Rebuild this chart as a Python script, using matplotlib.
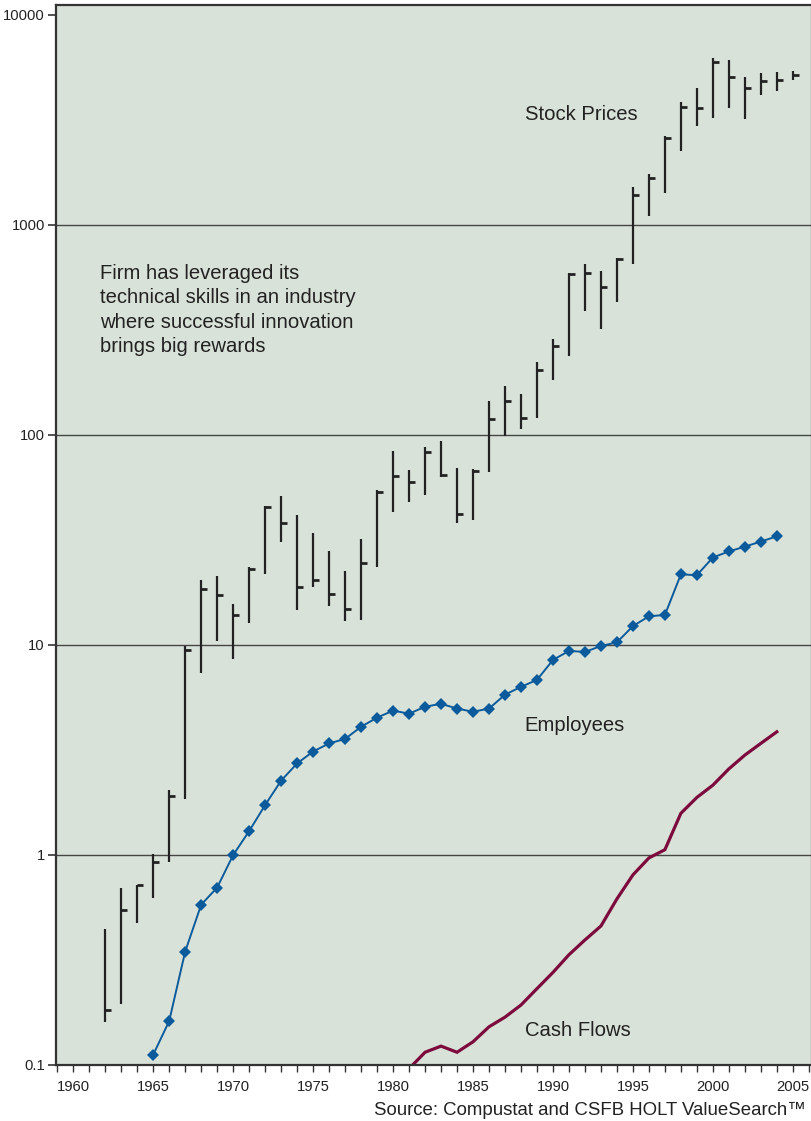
import numpy as np
import matplotlib
matplotlib.use("Agg")
import matplotlib.pyplot as plt
from matplotlib.markers import TICKRIGHT
from matplotlib.ticker import FixedLocator, NullFormatter

plt.rcParams['font.family'] = ['Liberation Sans', 'DejaVu Sans']

# ---- data -------------------------------------------------------------
price_years = list(range(1962, 2006))
price_high = [0.444, 0.70, 0.723, 1.01, 2.05, 9.87, 20.5, 21.4, 15.6, 23.6,
              45.9, 51.5, 41.5, 34.3, 28.1, 22.4, 31.8, 54.5, 83.7, 68.2,
              88.1, 93.7, 69.8, 69.0, 145, 171, 156, 222, 288, 590,
              653, 601, 700, 1510, 1745, 2642, 3838, 4476, 6233, 6099,
              5082, 5297, 5370, 5430]
price_low = [0.160, 0.195, 0.476, 0.621, 0.93, 1.85, 7.36, 10.5, 8.6, 12.7,
             21.9, 30.8, 14.7, 18.8, 15.4, 13.0, 13.2, 23.6, 43.0, 48.0,
             51.9, 63.0, 37.9, 39.2, 66.5, 99.4, 107, 120, 183, 239,
             391, 320, 428, 651, 1104, 1422, 2250, 2957, 3238, 3611,
             3206, 4178, 4365, 4920]
price_close = [0.183, 0.549, 0.72, 0.927, 1.92, 9.5, 18.5, 17.3, 13.9, 22.9,
               45.4, 38.3, 18.8, 20.3, 17.5, 14.8, 24.7, 53.5, 63.7, 59.7,
               82.8, 64.4, 41.9, 67.3, 119, 145, 120, 203, 266, 584,
               590, 507, 687, 1383, 1683, 2604, 3662, 3596, 5987, 5082,
               4494, 4832, 4920, 5180]

employee_years = list(range(1965, 2005))
employees = [0.112, 0.162, 0.347, 0.58, 0.70, 1.0, 1.30, 1.73, 2.26, 2.73,
             3.11, 3.40, 3.57, 4.08, 4.51, 4.87, 4.71, 5.08, 5.25, 4.98,
             4.81, 4.98, 5.80, 6.32, 6.82, 8.49, 9.37, 9.27, 9.89, 10.3,
             12.3, 13.7, 13.9, 21.7, 21.5, 26.1, 27.9, 29.4, 31.1, 32.9]

cash_years = list(range(1981, 2005))
cash_flows = [0.096, 0.115, 0.123, 0.115, 0.129, 0.152, 0.169, 0.193,
              0.231, 0.276, 0.335, 0.394, 0.459, 0.618, 0.804, 0.968,
              1.06, 1.58, 1.88, 2.15, 2.57, 2.99, 3.40, 3.86]

y_ticks = [0.1, 1, 10, 100, 1000, 10000]
y_tick_labels = ['0.1', '1', '10', '100', '1000', '10000']
x_ticks = list(range(1960, 2006, 5))

# ---- figure -----------------------------------------------------------
W, H = 812, 1121
fig = plt.figure(figsize=(W / 100, H / 100), dpi=100)
fig.patch.set_facecolor('white')
ax = fig.add_axes([56 / W, 1 - 1065 / H, (W - 56) / W, 1060 / H])
ax.set_facecolor('#d9e2d8')

ax.set_yscale('log')
ax.set_ylim(0.1, 10 ** (4 + 10 / 210))
ax.set_xlim(1958.92, 2006.2)

ink = '#222222'

# gridlines at each decade
for v in [1, 10, 100, 1000]:
    ax.axhline(v, color='#454545', lw=1.0, zorder=1)

# stock price high-low bars with close ticks
ax.vlines(price_years, price_low, price_high, colors=ink, lw=1.6, zorder=3)
ax.plot(price_years, price_close, linestyle='none', marker=TICKRIGHT,
        markersize=4, markeredgewidth=2.0, color=ink, zorder=3)

# employees
ax.plot(employee_years, employees, color='#0b5b9c', lw=1.4, marker='D',
        markersize=6, markeredgewidth=0, zorder=4, clip_on=False)

# cash flows
ax.plot(cash_years, cash_flows, color='#7c0a3d', lw=2.3, zorder=4,
        solid_joinstyle='miter')

# axes styling
for side in ['left', 'bottom', 'top', 'right']:
    ax.spines[side].set_color('#333333')
    ax.spines[side].set_linewidth(1.6)
    ax.spines[side].set_zorder(5)

ax.yaxis.set_major_locator(FixedLocator(y_ticks))
ax.set_yticklabels(y_tick_labels)
ax.yaxis.set_minor_locator(FixedLocator([]))
ax.yaxis.set_minor_formatter(NullFormatter())
ax.tick_params(axis='y', which='major', direction='out', length=6, width=1.2,
               color='#333333', pad=2, labelsize=10.6, labelcolor=ink)

ax.set_xticks(x_ticks)
ax.set_xticklabels([str(y) for y in x_ticks])
ax.xaxis.set_minor_locator(FixedLocator(list(range(1959, 2007))))
ax.tick_params(axis='x', which='both', direction='out', length=5, width=1.0,
               color='#333333')
ax.tick_params(axis='x', which='major', pad=6, labelsize=10.6, labelcolor=ink)

# annotations
tfs = 14.6
ax.text(0.620, (1065 - 120) / 1060, 'Stock Prices', transform=ax.transAxes,
        fontsize=tfs, color=ink, va='baseline', ha='left')
ax.text(0.620, (1065 - 731) / 1060, 'Employees', transform=ax.transAxes,
        fontsize=tfs, color=ink, va='baseline', ha='left')
ax.text(0.620, (1065 - 1036) / 1060, 'Cash Flows', transform=ax.transAxes,
        fontsize=tfs, color=ink, va='baseline', ha='left')
ax.text((100 - 56) / 756, (1065 - 310) / 1060,
        'Firm has leveraged its\ntechnical skills in an industry\n'
        'where successful innovation\nbrings big rewards',
        transform=ax.transAxes, fontsize=tfs, color=ink, va='center',
        ha='left', linespacing=1.34)

fig.text(806 / W, 1 - 1115 / H, 'Source: Compustat and CSFB HOLT ValueSearch\u2122',
         fontsize=13.4, color=ink, ha='right', va='baseline')

fig.savefig('out.png', dpi=100, facecolor='white')
